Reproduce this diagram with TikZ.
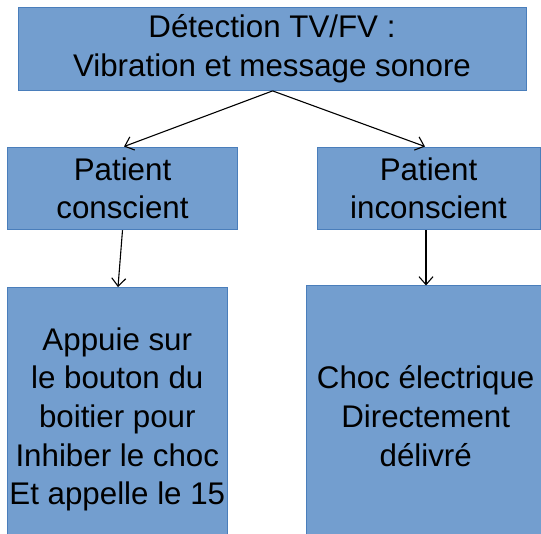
\documentclass[tikz,border=0pt]{standalone}
\usepackage{fontspec}
\setmainfont{Liberation Sans}
\usetikzlibrary{arrows.meta}
\definecolor{boxfill}{RGB}{115,158,207}
\definecolor{boxline}{RGB}{74,126,187}
\begin{document}
\begin{tikzpicture}[x=1pt,y=-1pt,
  box/.style={draw=boxline, fill=boxfill, line width=1pt, inner sep=0pt, align=center,
    font=\fontsize{31.3}{38.7}\selectfont},
  arr/.style={draw=black, line width=1.1pt, -{Straight Barb[length=8pt,width=14pt]}}]
\useasboundingbox (0,0) rectangle (541,534);
\clip (0,0) rectangle (541,534);
\node[box, minimum width=508pt, minimum height=82.8pt] (top) at (272,49)
  {Détection TV/FV :\\Vibration et message sonore};
\node[box, minimum width=229.8pt, minimum height=82.7pt] (lm) at (122.5,188.4)
  {Patient\\conscient};
\node[box, minimum width=223pt, minimum height=82.7pt] (rm) at (428.5,188.4)
  {Patient\\inconscient};
\node[box, minimum width=219.4pt, minimum height=263.8pt] (lb) at (117.3,419.5)
  {Appuie sur\\le bouton du\\boitier pour\\Inhiber le choc\\Et appelle le 15};
\node[box, minimum width=238.6pt, minimum height=260pt] (rb) at (425.7,416)
  {Choc électrique\\Directement\\délivré};
\draw[arr] ([xshift=0.6pt]top.south) -- ([xshift=1.5pt]lm.north);
\draw[arr] ([xshift=0.6pt]top.south) -- ([xshift=-3.5pt]rm.north);
\draw[arr] ([xshift=0pt]lm.south) -- ([xshift=0.7pt]lb.north);
\draw[arr] ([xshift=-2.5pt]rm.south) -- ([xshift=0.3pt]rb.north);
\end{tikzpicture}
\end{document}
